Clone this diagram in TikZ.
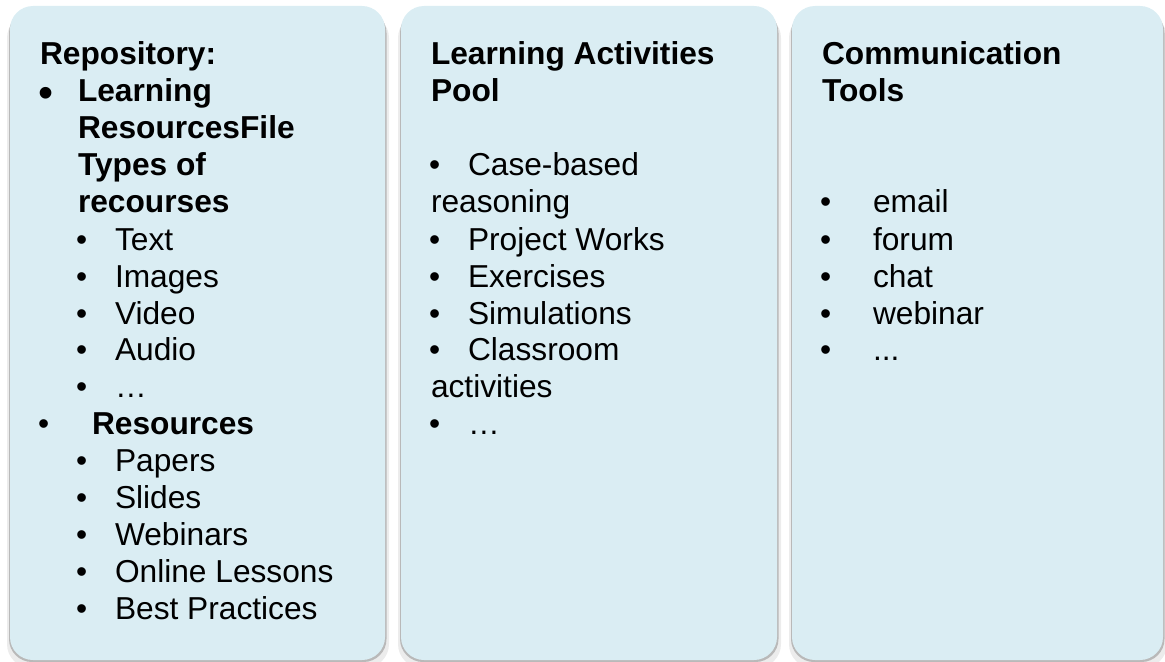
\documentclass[tikz,border=0pt]{standalone}
\usepackage{fontspec}
\setmainfont{Liberation Sans}
\definecolor{panelblue}{RGB}{218,237,243}
\definecolor{shadowgray}{RGB}{185,185,185}
\definecolor{glowgray}{RGB}{236,236,236}
\begin{document}
\begin{tikzpicture}[x=1bp,y=-1bp,
  txt/.style={anchor=base west,inner sep=0pt,outer sep=0pt,font=\fontsize{31.7bp}{36.9bp}\selectfont},
  btxt/.style={txt,font=\fontsize{31.7bp}{36.9bp}\selectfont\bfseries},
  bigbul/.style={anchor=base west,inner sep=0pt,font=\fontsize{43bp}{43bp}\selectfont}]
\useasboundingbox (0,0) rectangle (1165,662);
% panels
\foreach \xa/\xb/\nm in {10/385/pa,401/777/pb,792/1163/pc}{
  \fill[glowgray,rounded corners=24bp] (\xa-3,14) rectangle (\xb+4,668);
  \fill[shadowgray,rounded corners=23bp] (\xa-1,10) rectangle (\xb+1.5,662);
  \fill[panelblue,rounded corners=23bp] (\xa,6) rectangle (\xb,660);
  \coordinate (\nm) at (\xa,6);
}
% left panel
\node[btxt] (l1) at (40,65) {Repository:};
\node[bigbul] (l2b) at (38,108) {•};
\node[btxt] (l2) at (78,102) {Learning};
\node[btxt] (l3) at (78,139) {ResourcesFile};
\node[btxt] (l4) at (78,176) {Types of};
\node[btxt] (l5) at (78,213) {recourses};
\foreach \t/\yy/\n in {Text/250/a,Images/287/b,Video/324/c,Audio/360/d}{
  \node[txt] (lb\n) at (76,\yy) {•};
  \node[txt] (lt\n) at (115,\yy) {\t};
}
\node[txt] (lbe) at (76,397) {•};
\node[txt] (lte) at (115,397) {…};
\node[txt] (lrb) at (38,434) {•};
\node[btxt] (lr) at (92,434) {Resources};
\foreach \t/\yy/\n in {Papers/471/f,Slides/508/g,Webinars/545/h,Online Lessons/582/i,Best Practices/619/j}{
  \node[txt] (lb\n) at (76,\yy) {•};
  \node[txt] (lt\n) at (115,\yy) {\t};
}
% middle panel
\node[btxt] (m1) at (431,65) {Learning Activities};
\node[btxt] (m2) at (431,102) {Pool};
\node[txt] (mb1) at (429,176) {•};
\node[txt] (m3) at (468,176) {Case-based};
\node[txt] (m4) at (431,213) {reasoning};
\node[txt] (mb2) at (429,250) {•};
\node[txt] (m5) at (468,250) {Project Works};
\node[txt] (mb3) at (429,287) {•};
\node[txt] (m6) at (468,287) {Exercises};
\node[txt] (mb4) at (429,324) {•};
\node[txt] (m7) at (468,324) {Simulations};
\node[txt] (mb5) at (429,360) {•};
\node[txt] (m8) at (468,360) {Classroom};
\node[txt] (m9) at (431,397) {activities};
\node[txt] (mb6) at (429,434) {•};
\node[txt] (m10) at (468,434) {…};
% right panel
\node[btxt] (r1) at (822,65) {Communication};
\node[btxt] (r2) at (822,102) {Tools};
\foreach \t/\yy/\n in {email/213/a,forum/250/b,chat/287/c,webinar/324/d}{
  \node[txt] (rb\n) at (820,\yy) {•};
  \node[txt] (rt\n) at (873,\yy) {\t};
}
\node[txt] (rbe) at (820,360) {•};
\node[txt] (rte) at (873,360) {...};
\end{tikzpicture}
\end{document}
